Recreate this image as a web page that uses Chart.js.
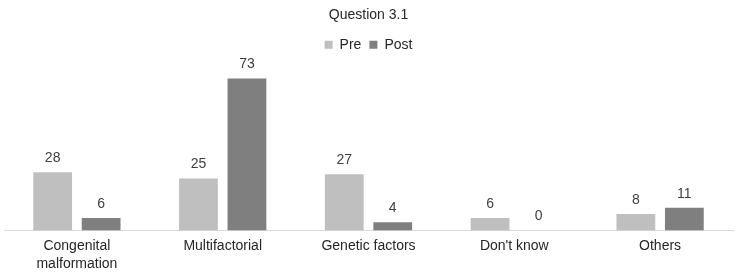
<!DOCTYPE html>
<html>
<head>
<meta charset="utf-8">
<script src="https://cdn.jsdelivr.net/npm/chart.js@4/dist/chart.umd.min.js"></script>
<style>
  html, body { margin: 0; padding: 0; background: #fff; }
  #wrap { width: 736px; height: 272px; }
</style>
</head>
<body>
<div id="wrap"><canvas id="myChart"></canvas></div>
<script>
const categories = [['Congenital', 'malformation'], 'Multifactorial', 'Genetic factors', "Don't know", 'Others'];
const preValues = [28, 25, 27, 6, 8];
const postValues = [6, 73, 4, 0, 11];

// draws the value above each bar
const valueLabels = {
  id: 'valueLabels',
  afterDatasetsDraw(chart) {
    const ctx = chart.ctx;
    ctx.save();
    ctx.font = '14px "Liberation Sans", Arial, sans-serif';
    ctx.fillStyle = '#404040';
    ctx.textAlign = 'center';
    ctx.textBaseline = 'bottom';
    chart.data.datasets.forEach((ds, i) => {
      chart.getDatasetMeta(i).data.forEach((bar, j) => {
        ctx.fillText(ds.data[j], bar.x, bar.y - 7);
      });
    });
    ctx.restore();
  }
};

new Chart(document.getElementById('myChart'), {
  type: 'bar',
  data: {
    labels: categories,
    datasets: [
      {
        label: 'Pre',
        data: preValues,
        backgroundColor: '#bfbfbf',
        categoryPercentage: 0.665,
        barPercentage: 0.8
      },
      {
        label: 'Post',
        data: postValues,
        backgroundColor: '#7f7f7f',
        categoryPercentage: 0.665,
        barPercentage: 0.8
      }
    ]
  },
  options: {
    responsive: true,
    maintainAspectRatio: false,
    animation: false,
    layout: {
      padding: { left: 4, right: 3, top: 3, bottom: -7 }
    },
    plugins: {
      title: {
        display: true,
        text: 'Question 3.1',
        color: '#262626',
        font: { family: '"Liberation Sans", Arial, sans-serif', size: 14, weight: 'normal' },
        padding: { top: 4, bottom: 6 }
      },
      legend: {
        labels: {
          color: '#262626',
          boxWidth: 8,
          boxHeight: 8,
          padding: 8,
          font: { family: '"Liberation Sans", Arial, sans-serif', size: 14 }
        }
      },
      tooltip: { enabled: false }
    },
    scales: {
      x: {
        grid: { display: true, drawOnChartArea: false, drawTicks: false, tickLength: 0 },
        border: { display: true, color: '#d9d9d9', width: 1 },
        ticks: {
          color: '#262626',
          padding: 6,
          maxRotation: 0,
          autoSkip: false,
          font: { family: '"Liberation Sans", Arial, sans-serif', size: 14, lineHeight: 1.3 }
        }
      },
      y: {
        display: false,
        min: 0,
        max: 81
      }
    }
  },
  plugins: [valueLabels]
});
</script>
</body>
</html>
